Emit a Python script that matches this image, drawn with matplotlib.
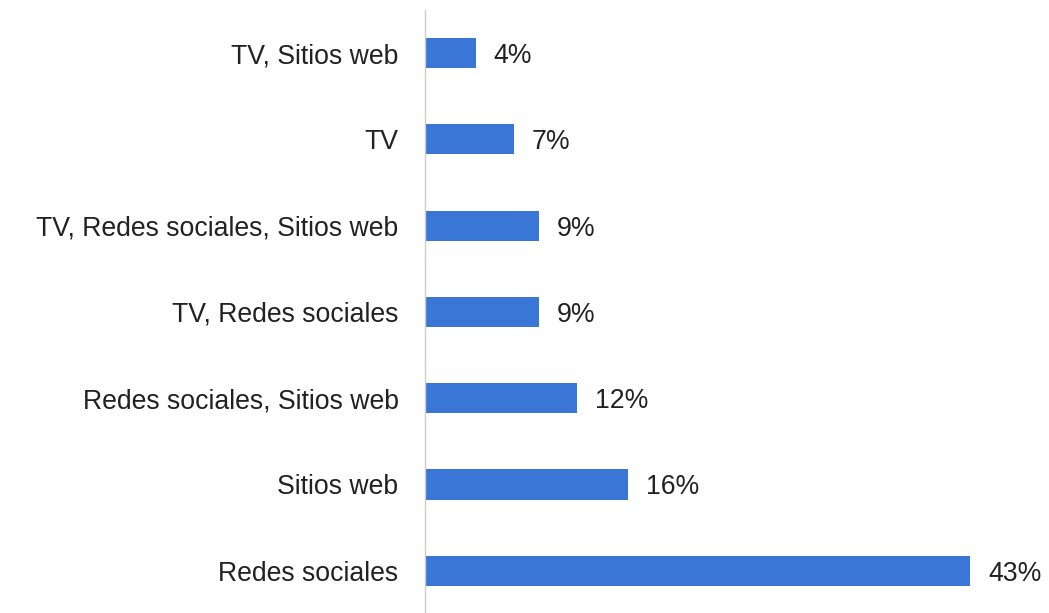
import matplotlib.pyplot as plt

categories = [
    "Redes sociales",
    "Sitios web",
    "Redes sociales, Sitios web",
    "TV, Redes sociales",
    "TV, Redes sociales, Sitios web",
    "TV",
    "TV, Sitios web",
]
values = [43, 16, 12, 9, 9, 7, 4]
value_labels = ["43%", "16%", "12%", "9%", "9%", "7%", "4%"]

plt.rcParams["font.family"] = ["Liberation Sans", "DejaVu Sans"]

fig = plt.figure(figsize=(10.49, 6.13), dpi=100)
ax = fig.add_axes([425 / 1049, 0, 615 / 1049, 1 - 10 / 613])

ypos = list(range(len(categories)))
bars = ax.barh(ypos, values, height=0.35, color="#3a76d6")
ax.set_xlim(0, 48.5)
ax.set_ylim(-0.49, 6.5)

ax.set_yticks(ypos)
ax.set_yticklabels(categories, fontsize=19.2, color="#222222",
                   va="center_baseline")
ax.tick_params(axis="y", length=0, pad=19)
ax.set_xticks([])

for b, lab in zip(bars, value_labels):
    ax.annotate(lab, (b.get_width(), b.get_y() + b.get_height() / 2),
                xytext=(13, 0), textcoords="offset points",
                va="center_baseline", ha="left", fontsize=19.2,
                color="#222222")

for s in ["top", "right", "bottom"]:
    ax.spines[s].set_visible(False)
ax.spines["left"].set_color("#cccccc")
ax.spines["left"].set_linewidth(1)

fig.savefig("out.png", dpi=100)
